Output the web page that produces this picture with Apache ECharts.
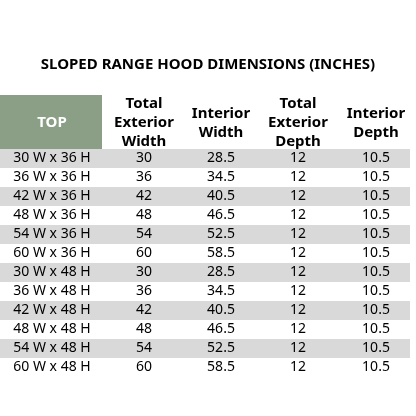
<!DOCTYPE html>
<html><head><meta charset="utf-8">
<script src="https://cdn.jsdelivr.net/npm/echarts@6/dist/echarts.min.js"></script>
<style>html,body{margin:0;padding:0;background:#fff}#c{width:416px;height:416px}</style>
</head><body><div id="c"></div>
<script>
const title = 'SLOPED RANGE HOOD DIMENSIONS (INCHES)';
const headers = ['TOP', 'Total\nExterior\nWidth', 'Interior\nWidth', 'Total\nExterior\nDepth', 'Interior\nDepth'];
const sizes = ['30 W x 36 H','36 W x 36 H','42 W x 36 H','48 W x 36 H','54 W x 36 H','60 W x 36 H','30 W x 48 H','36 W x 48 H','42 W x 48 H','48 W x 48 H','54 W x 48 H','60 W x 48 H'];
const extWidth = [30,36,42,48,54,60,30,36,42,48,54,60];
const intWidth = [28.5,34.5,40.5,46.5,52.5,58.5,28.5,34.5,40.5,46.5,52.5,58.5];
const extDepth = [12,12,12,12,12,12,12,12,12,12,12,12];
const intDepth = [10.5,10.5,10.5,10.5,10.5,10.5,10.5,10.5,10.5,10.5,10.5,10.5];

const colX = [52, 144, 221, 298, 376];
const cols = [sizes, extWidth, intWidth, extDepth, intDepth];
const cellData = [];
sizes.forEach((s, r) => cols.forEach((c, k) => cellData.push([colX[k], sizes[r], String(c[r])])));
const font = '"Noto Sans", sans-serif';
const chart = echarts.init(document.getElementById('c'));
chart.setOption({
  animation: false,
  grid: {left: 0, right: 0, top: 149, bottom: 39},
  xAxis: {type: 'value', min: 0, max: 416, show: false},
  yAxis: {type: 'category', data: sizes, inverse: true, show: false},
  graphic: [
    {type: 'text', left: 'center', top: 57, style: {text: title, font: 'bold 15px ' + font, fill: '#000'}},
    {type: 'rect', shape: {x: 0, y: 95, width: 102, height: 54}, style: {fill: '#8b9f87'}},
    ...headers.map((h, k) => ({type: 'text', x: colX[k], y: 123,
      style: {text: h, font: 'bold 15px ' + font, fill: k === 0 ? '#fff' : '#000', align: 'center', verticalAlign: 'middle', lineHeight: 19}}))
  ],
  series: [
    {type: 'custom', data: sizes.map((s, i) => [0, s, i]), encode: {x: 0, y: 1},
     renderItem: (p, api) => {
       const i = api.value(2);
       if (i % 2) return;
       const pt = api.coord([0, api.value(1)]);
       const h = api.size([0, 1])[1];
       return {type: 'rect', shape: {x: 0, y: pt[1] - h / 2, width: 410, height: h}, style: {fill: '#d9d9d9'}};
     }},
    {type: 'custom', data: cellData, encode: {x: 0, y: 1},
     renderItem: (p, api) => {
       const pt = api.coord([api.value(0), api.value(1)]);
       return {type: 'text', x: pt[0], y: pt[1], style: {text: cellData[p.dataIndex][2], font: '14px ' + font, fill: '#000', align: 'center', verticalAlign: 'middle'}};
     }}
  ]
});
</script></body></html>
